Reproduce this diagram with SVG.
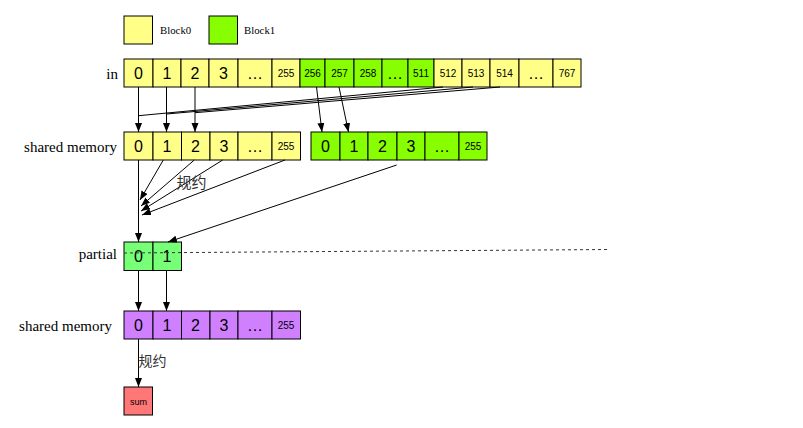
<svg xmlns="http://www.w3.org/2000/svg" width="803" height="428" viewBox="0 0 803 428">
<defs>
<style>
.c{stroke:#000;stroke-width:1}
.y{fill:#FFFF88}.g{fill:#88FF00}.pg{fill:#77FF77}.pu{fill:#D080FF}.s{fill:#FF7777}
.n{font-family:"Liberation Sans",Arial,sans-serif;font-size:16px;text-anchor:middle;fill:#000}
.m{font-family:"Liberation Sans",Arial,sans-serif;font-size:10px;text-anchor:middle;fill:#000}
.l{font-family:"Liberation Serif","Times New Roman",serif;font-size:15px;text-anchor:end;fill:#000}
.b{font-family:"Liberation Serif","Times New Roman",serif;font-size:10.8px;fill:#000}
.cn{font-family:"Liberation Serif","Noto Sans CJK SC",serif;fill:#333}
.e{stroke:#000;stroke-width:1;fill:none}
.a{marker-end:url(#ah)}
</style>
<marker id="ah" markerUnits="userSpaceOnUse" markerWidth="10" markerHeight="8" refX="9" refY="3.5" orient="auto">
<path d="M0,0 L9,3.5 L0,7 Z" fill="#000"/>
</marker>
</defs>
<rect width="803" height="428" fill="#fff"/>

<g id="legend">
<g id="legend-block0"><rect class="c y" x="124" y="16" width="28.5" height="28"/><text class="b" x="160" y="34">Block0</text></g>
<g id="legend-block1"><rect class="c g" x="209" y="16" width="28.5" height="28"/><text class="b" x="244" y="34">Block1</text></g>
</g>

<g id="labels">
<text class="l" x="118" y="79">in</text>
<text class="l" x="117" y="152">shared memory</text>
<text class="l" x="117" y="259">partial</text>
<text class="l" x="112" y="331">shared memory</text>
</g>

<g id="in-row">
<g id="in-0"><rect class="c y" x="124" y="59" width="29" height="28"/><text class="n" x="138.5" y="79">0</text></g>
<g id="in-1"><rect class="c y" x="153" y="59" width="28" height="28"/><text class="n" x="167" y="79">1</text></g>
<g id="in-2"><rect class="c y" x="181" y="59" width="28" height="28"/><text class="n" x="195" y="79">2</text></g>
<g id="in-3"><rect class="c y" x="209" y="59" width="29" height="28"/><text class="n" x="223.5" y="79">3</text></g>
<g id="in-d1"><rect class="c y" x="238" y="59" width="34" height="28"/><text class="n" x="255" y="79">…</text></g>
<g id="in-255"><rect class="c y" x="272" y="59" width="28" height="28"/><text class="m" x="286" y="77">255</text></g>
<g id="in-256"><rect class="c g" x="300" y="59" width="25" height="28"/><text class="m" x="312.5" y="77">256</text></g>
<g id="in-257"><rect class="c g" x="325" y="59" width="29" height="28"/><text class="m" x="339.5" y="77">257</text></g>
<g id="in-258"><rect class="c g" x="354" y="59" width="28" height="28"/><text class="m" x="368" y="77">258</text></g>
<g id="in-d2"><rect class="c g" x="382" y="59" width="26" height="28"/><text class="n" x="395" y="79">…</text></g>
<g id="in-511"><rect class="c g" x="408" y="59" width="26" height="28"/><text class="m" x="421" y="77">511</text></g>
<g id="in-512"><rect class="c y" x="434" y="59" width="28" height="28"/><text class="m" x="448" y="77">512</text></g>
<g id="in-513"><rect class="c y" x="462" y="59" width="28" height="28"/><text class="m" x="476" y="77">513</text></g>
<g id="in-514"><rect class="c y" x="490" y="59" width="29" height="28"/><text class="m" x="504.5" y="77">514</text></g>
<g id="in-d3"><rect class="c y" x="519" y="59" width="34" height="28"/><text class="n" x="536" y="79">…</text></g>
<g id="in-767"><rect class="c y" x="553" y="59" width="28" height="28"/><text class="m" x="567" y="77">767</text></g>
</g>

<g id="shared0-row">
<g id="sm0-0"><rect class="c y" x="124" y="132" width="29" height="28"/><text class="n" x="138.5" y="152">0</text></g>
<g id="sm0-1"><rect class="c y" x="153" y="132" width="28.5" height="28"/><text class="n" x="167" y="152">1</text></g>
<g id="sm0-2"><rect class="c y" x="181.5" y="132" width="28.5" height="28"/><text class="n" x="195.5" y="152">2</text></g>
<g id="sm0-3"><rect class="c y" x="210" y="132" width="28" height="28"/><text class="n" x="224" y="152">3</text></g>
<g id="sm0-d"><rect class="c y" x="238" y="132" width="34" height="28"/><text class="n" x="255" y="152">…</text></g>
<g id="sm0-255"><rect class="c y" x="272" y="132" width="28.5" height="28"/><text class="m" x="286" y="150">255</text></g>
</g>

<g id="shared1-row">
<g id="sm1-0"><rect class="c g" x="311" y="132" width="29" height="28"/><text class="n" x="325.5" y="152">0</text></g>
<g id="sm1-1"><rect class="c g" x="340" y="132" width="28" height="28"/><text class="n" x="354" y="152">1</text></g>
<g id="sm1-2"><rect class="c g" x="368" y="132" width="29" height="28"/><text class="n" x="382.5" y="152">2</text></g>
<g id="sm1-3"><rect class="c g" x="397" y="132" width="28" height="28"/><text class="n" x="411" y="152">3</text></g>
<g id="sm1-d"><rect class="c g" x="425" y="132" width="34" height="28"/><text class="n" x="442" y="152">…</text></g>
<g id="sm1-255"><rect class="c g" x="459" y="132" width="28" height="28"/><text class="m" x="473" y="150">255</text></g>
</g>

<g id="partial-row">
<g id="partial-0"><rect class="c pg" x="124" y="242" width="29" height="28.5"/><text class="n" x="138.5" y="262">0</text></g>
<g id="partial-1"><rect class="c pg" x="153" y="242" width="28.5" height="28.5"/><text class="n" x="167" y="262">1</text></g>
</g>

<g id="shared2-row">
<g id="sm2-0"><rect class="c pu" x="124" y="311" width="29" height="28"/><text class="n" x="138.5" y="331">0</text></g>
<g id="sm2-1"><rect class="c pu" x="153" y="311" width="28.5" height="28"/><text class="n" x="167" y="331">1</text></g>
<g id="sm2-2"><rect class="c pu" x="181.5" y="311" width="28.5" height="28"/><text class="n" x="195.5" y="331">2</text></g>
<g id="sm2-3"><rect class="c pu" x="210" y="311" width="28" height="28"/><text class="n" x="224" y="331">3</text></g>
<g id="sm2-d"><rect class="c pu" x="238" y="311" width="34" height="28"/><text class="n" x="255" y="331">…</text></g>
<g id="sm2-255"><rect class="c pu" x="272" y="311" width="28.5" height="28"/><text class="m" x="286" y="329">255</text></g>
</g>

<g id="sum"><rect class="c s" x="124" y="387" width="28.5" height="28"/><text class="m" x="138.5" y="405" style="font-size:9px">sum</text></g>

<g id="connectors">
<line class="e a" x1="138.5" y1="87" x2="138.5" y2="132"/>
<line class="e a" x1="166.5" y1="87" x2="166.5" y2="132"/>
<line class="e a" x1="195" y1="87" x2="195" y2="132"/>
<line class="e a" x1="316.5" y1="87" x2="322" y2="132"/>
<line class="e a" x1="339" y1="87" x2="348.5" y2="132"/>
<line class="e" x1="443" y1="87" x2="138.5" y2="115.7"/>
<line class="e" x1="473" y1="87" x2="166.5" y2="114"/>
<line class="e" x1="500" y1="87" x2="195" y2="112.7"/>
<line class="e a" x1="138.5" y1="160" x2="138.5" y2="242"/>
<line class="e a" x1="163.3" y1="160" x2="140" y2="200"/>
<line class="e a" x1="194.3" y1="160" x2="141" y2="206"/>
<line class="e a" x1="222.7" y1="160" x2="141" y2="211"/>
<line class="e a" x1="285" y1="160" x2="142" y2="215"/>
<line class="e a" x1="396.7" y1="165" x2="168" y2="242"/>
<line class="e a" x1="138.5" y1="270.5" x2="138.5" y2="311"/>
<line class="e a" x1="166.5" y1="270.5" x2="166.5" y2="311"/>
<line class="e a" x1="138.5" y1="339" x2="138.5" y2="387"/>
<line x1="124" y1="253" x2="608" y2="249.5" stroke="#333" stroke-width="1" stroke-dasharray="3 3"/>
<text class="cn" x="176.5" y="188" style="font-size:15px">规约</text>
<text class="cn" x="138.5" y="366" style="font-size:14px">规约</text>
</g>
</svg>
